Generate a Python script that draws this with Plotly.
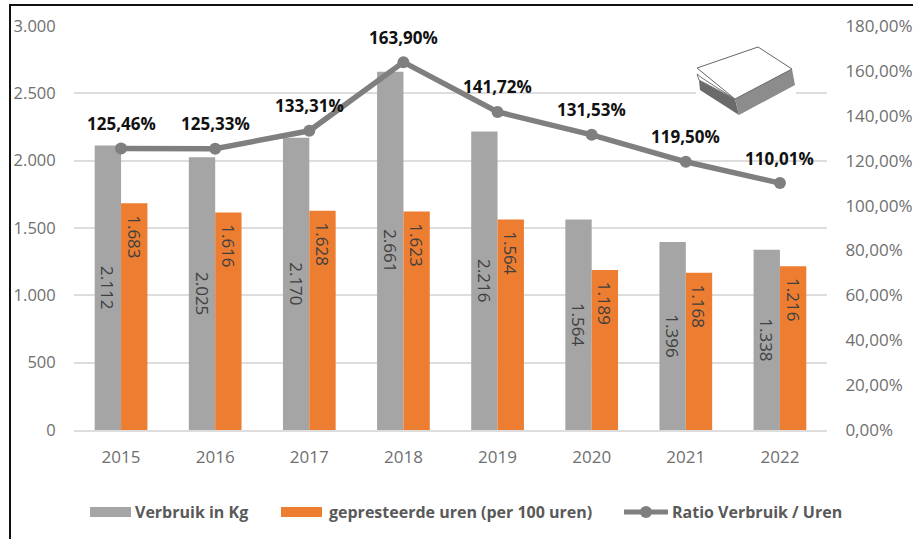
import plotly.graph_objects as go

YEARS = ["2015", "2016", "2017", "2018", "2019", "2020", "2021", "2022"]
VERBRUIK = [2112, 2025, 2170, 2661, 2216, 1564, 1396, 1338]
UREN = [1683, 1616, 1628, 1623, 1564, 1189, 1168, 1216]
RATIO = [125.46, 125.33, 133.31, 163.90, 141.72, 131.53, 119.50, 110.01]
RATIO_TEXT = ["125,46%", "125,33%", "133,31%", "163,90%", "141,72%", "131,53%", "119,50%", "110,01%"]
LEFT_TICKS = [0, 500, 1000, 1500, 2000, 2500, 3000]
LEFT_LABELS = ["0", "500", "1.000", "1.500", "2.000", "2.500", "3.000"]
RIGHT_TICKS = [0, 20, 40, 60, 80, 100, 120, 140, 160, 180]
RIGHT_LABELS = ["0,00%", "20,00%", "40,00%", "60,00%", "80,00%", "100,00%", "120,00%", "140,00%", "160,00%", "180,00%"]

W, H = 913, 539
L, R, T, B = 74, 827, 26, 430
FONT = "Open Sans"
GREY_TEXT = "#6f6f6f"
C_GREY = "#a5a5a5"
C_ORANGE = "#ed7d31"
C_LINE = "#7f7f7f"
C_GRID = "#dddddd"
NO_TICK = "rgba(0,0,0,0)"


def px_x(x):
    return (x - L) / (R - L)


def px_y(y):
    return (B - y) / (B - T)


def paper_rect(x0, x1, y0, y1, fill):
    return dict(type="rect", xref="paper", yref="paper", x0=px_x(x0), x1=px_x(x1),
                y0=px_y(y0), y1=px_y(y1), fillcolor=fill, line_width=0, layer="above")


def paper_line(x0, x1, y0, y1, color, width):
    return dict(type="line", xref="paper", yref="paper", x0=px_x(x0), x1=px_x(x1),
                y0=px_y(y0), y1=px_y(y1), line=dict(color=color, width=width), layer="above")


def poly(points, fill, line="rgba(0,0,0,0)", width=1):
    path = "M " + " L ".join(f"{px_x(x):.4f},{px_y(y):.4f}" for x, y in points) + " Z"
    return dict(type="path", xref="paper", yref="paper", path=path, fillcolor=fill,
                line=dict(color=line, width=width), layer="above")


def dot_label(v):
    return f"{v:,}".replace(",", ".")


fig = go.Figure()
fig.add_bar(
    x=YEARS, y=VERBRUIK, name="Verbruik in Kg", marker_color=C_GREY, marker_line_width=0,
    text=[dot_label(v) for v in VERBRUIK], textposition="inside", insidetextanchor="middle",
    textangle=90, textfont=dict(color="#404040", size=17, family=FONT), constraintext="none",
)
# leading nbsp keeps the orange labels a little below the bar top
fig.add_bar(
    x=YEARS, y=UREN, name="gepresteerde uren (per 100 uren)", marker_color=C_ORANGE, marker_line_width=0,
    text=["\u00a0\u00a0" + dot_label(v) for v in UREN], textposition="inside", insidetextanchor="end",
    textangle=90, textfont=dict(color="#404040", size=17, family=FONT), constraintext="none",
)
fig.add_scatter(
    x=YEARS, y=RATIO, name="Ratio Verbruik / Uren", yaxis="y2", mode="lines+markers",
    line=dict(color=C_LINE, width=5.5), marker=dict(color=C_LINE, size=12),
)

# category axis: annotations take the category index, a "2015" string would be read as index 2015
annotations = [
    dict(x=i, y=val, xref="x", yref="y2", text=f"<b>{label}</b>", showarrow=False, yshift=25,
         font=dict(color="#111111", size=17, family=FONT))
    for i, (val, label) in enumerate(zip(RATIO, RATIO_TEXT))
]

# legend drawn by hand so the keys keep the same spacing as the picture
for x_text, label in [(133, "Verbruik in Kg"), (327, "gepresteerde uren (per 100 uren)"), (670, "Ratio Verbruik / Uren")]:
    annotations.append(dict(xref="paper", yref="paper", x=px_x(x_text), y=px_y(512), xanchor="left", yanchor="middle",
                            text=f"<b>{label}</b>", showarrow=False, font=dict(color="#595959", size=16, family=FONT)))

shapes = [
    # outer frame, top and left only
    paper_line(9, 913, 5, 5, "#111111", 2),
    paper_line(10, 10, 5, 539, "#111111", 2),
    # white gap in the gridline behind the paper stack
    paper_rect(696, 796, 90, 100, "white"),
    # paper stack icon
    poly([(699, 80), (735, 99), (739, 115), (700, 90)], "#6a6a6a"),
    poly([(735, 99), (792, 69), (795, 85), (739, 115)], "#8c8c8c"),
    poly([(697, 74), (702, 78), (733, 98), (699, 80)], "white", "#777777", 1),
    poly([(697, 68), (758, 47), (792, 69), (735, 99)], "white", "#666666", 1),
    # legend keys
    paper_rect(90, 131, 507, 517, C_GREY),
    paper_rect(281, 322, 507, 517, C_ORANGE),
    paper_line(624, 668, 512, 512, C_LINE, 5),
    dict(type="circle", xref="paper", yref="paper", x0=px_x(640), x1=px_x(652), y0=px_y(518), y1=px_y(506),
         fillcolor=C_LINE, line_width=0, layer="above"),
]

fig.update_layout(
    width=W, height=H, autosize=False,
    margin=dict(l=L, r=W - R, t=T, b=H - B, pad=0),
    paper_bgcolor="white", plot_bgcolor="white",
    barmode="group", bargap=0.44, bargroupgap=0,
    showlegend=False, shapes=shapes, annotations=annotations,
    font=dict(family=FONT, color=GREY_TEXT, size=16),
    xaxis=dict(type="category", automargin=False, showgrid=False, showline=True, linecolor=C_GRID, linewidth=2,
               ticks="outside", ticklen=11, tickcolor=NO_TICK, tickfont=dict(size=17, color=GREY_TEXT)),
    yaxis=dict(range=[0, 3000], automargin=False, tickvals=LEFT_TICKS, ticktext=LEFT_LABELS,
               gridcolor=C_GRID, gridwidth=2, showline=False, zeroline=False,
               tickfont=dict(size=16.5, color=GREY_TEXT), ticks="outside", ticklen=14, tickcolor=NO_TICK),
    yaxis2=dict(range=[0, 180], automargin=False, tickvals=RIGHT_TICKS, ticktext=RIGHT_LABELS, overlaying="y",
                side="right", showgrid=False, showline=False, zeroline=False,
                tickfont=dict(size=17, color=GREY_TEXT), ticks="outside", ticklen=14, tickcolor=NO_TICK),
)

fig.write_html("out.html", config={"displayModeBar": False}, post_script="document.body.style.margin='0';")
